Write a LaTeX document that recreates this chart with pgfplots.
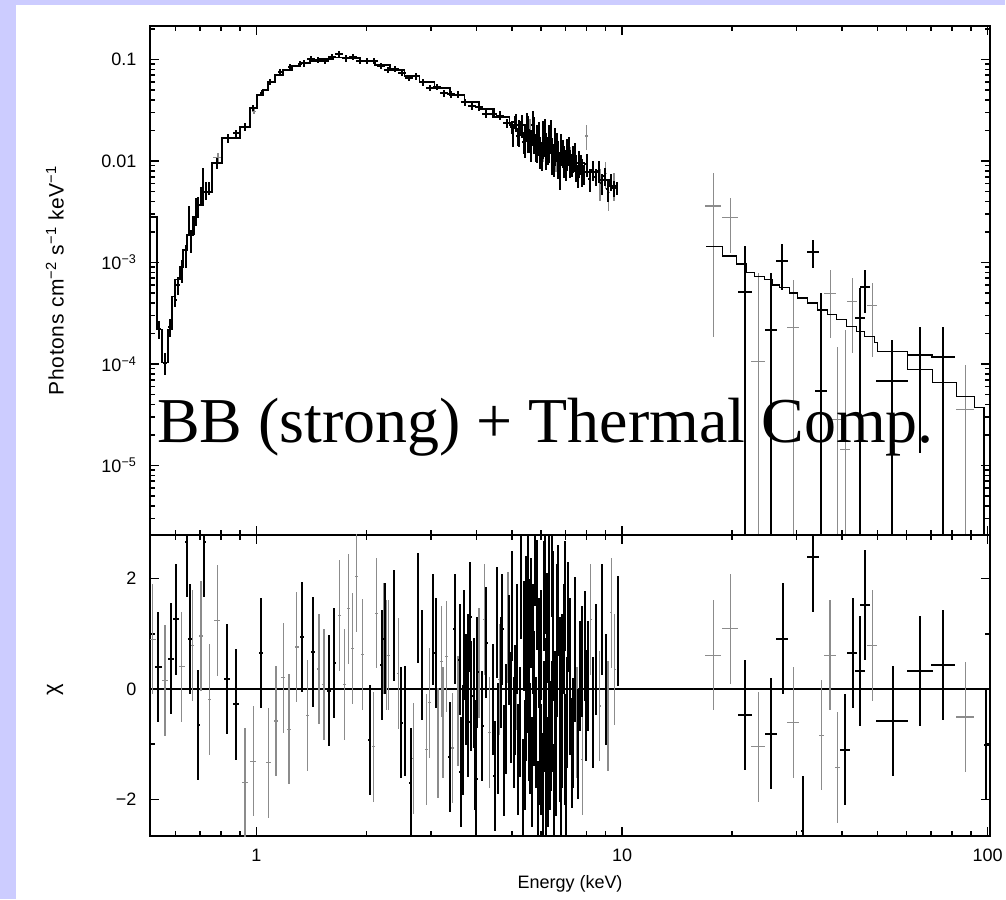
\documentclass[border=0pt]{standalone}
\usepackage{pgfplots}
\pgfplotsset{compat=1.18}
\usepackage{fontspec}
\setmainfont{Liberation Sans}
\newfontfamily\annfont{Liberation Serif}
\definecolor{lav}{RGB}{204,204,255}
\definecolor{dgray}{gray}{0.55}

\pgfplotsset{
  every axis/.append style={
    scale only axis, width=841pt, anchor=south west,
    xmin=0.511, xmax=101.6,
    xtick={1,10,100},
    minor xtick={0.6,0.7,0.8,0.9,2,3,4,5,6,7,8,9,20,30,40,50,60,70,80,90},
    tick align=inside,
    major tick length=9pt, minor tick length=5pt,
    axis line style={line width=2pt},
    tick style={line width=1.6pt, black},
    tick label style={font=\fontsize{18}{20}\selectfont},
    label style={font=\fontsize{18}{20}\selectfont},
    yticklabel style={xshift=-10pt},
    xticklabel style={yshift=-9pt},
  },
}

\begin{document}
\begin{tikzpicture}
\fill[lav] (0pt,0pt) rectangle (1006pt,900pt);
\fill[white] (16pt,0pt) rectangle (1006pt,895pt);

% ---------------- spectrum ----------------
\begin{axis}[xmode=log, at={(150pt,365pt)}, height=509pt,
  ymode=log, ymin=2.09e-6, ymax=0.2138,
  xticklabels={},
  ytick={1e-5,1e-4,1e-3,0.01,0.1},
  yticklabels={10\textsuperscript{−5},10\textsuperscript{−4},10\textsuperscript{−3},0.01,0.1},
  minor ytick={3e-6,4e-6,5e-6,6e-6,7e-6,8e-6,9e-6,2e-5,3e-5,4e-5,5e-5,6e-5,7e-5,8e-5,9e-5,2e-4,3e-4,4e-4,5e-4,6e-4,7e-4,8e-4,9e-4,2e-3,3e-3,4e-3,5e-3,6e-3,7e-3,8e-3,9e-3,0.02,0.03,0.04,0.05,0.06,0.07,0.08,0.09,0.2},
  ylabel={Photons cm\textsuperscript{−2} s\textsuperscript{−1} keV\textsuperscript{−1}},
  ylabel style={at={(axis description cs:-0.113,0.5)}, anchor=center,
    font=\fontsize{21}{24}\selectfont\addfontfeatures{LetterSpace=3}},
]
% gray data below 10 keV
\addplot[draw=none, mark=none, error bars/.cd, x dir=both, y dir=both, x explicit, y explicit,
    error mark=none, error bar style={draw=dgray, line width=1.2pt}]
  table[x=E, y=F, x error expr=\thisrow{E}*\thisrow{w}, y error expr=\thisrow{F}*\thisrow{r}] {
E w F r
0.785 0.030 0.0108 0.10
0.985 0.015 0.0310 0.06
5.60 0.008 0.0200 0.30
6.10 0.008 0.0150 0.35
6.60 0.008 0.0120 0.35
7.20 0.008 0.0105 0.30
7.998 0.008 0.01766 0.28
8.70 0.008 0.0062 0.35
9.00 0.008 0.0075 0.30
9.20 0.008 0.0049 0.35
9.50 0.008 0.0058 0.30
};
% gray data above 17 keV
\addplot[draw=none, mark=none, error bars/.cd, x dir=both, y dir=both, x explicit, y explicit,
    error mark=none, error bar style={draw=dgray, line width=1.2pt}]
  table[x=E, y=F, x error minus expr=\thisrow{E}-\thisrow{Elo}, x error plus expr=\thisrow{Ehi}-\thisrow{E},
        y error minus expr=\thisrow{F}-\thisrow{Flo}, y error plus expr=\thisrow{Fhi}-\thisrow{F}] {
E Elo Ehi F Flo Fhi
17.78 16.91 18.70 3.61e-3 1.86e-4 7.64e-3
19.79 18.82 20.81 2.77e-3 1.25e-3 4.33e-3
23.60 22.59 24.66 1.06e-4 1e-8 7.92e-4
29.42 28.33 30.55 2.29e-4 1e-8 6.76e-4
37.13 35.75 38.55 4.92e-4 1.82e-4 8.47e-4
38.79 37.59 40.05 2.83e-5 1e-8 1.48e-4
40.80 39.54 42.11 1.43e-5 1e-8 2.18e-4
42.64 41.32 44.00 4.13e-4 1.29e-4 7.07e-4
48.35 46.85 49.90 3.77e-4 1.18e-4 6.28e-4
86.80 82.03 91.87 3.55e-5 1e-8 9.84e-5
};
% black data below 10 keV
\addplot[draw=none, mark=none, error bars/.cd, x dir=both, y dir=both, x explicit, y explicit,
    error mark=none, error bar style={draw=black, line width=2pt}]
  table[x=E, y=F, x error expr=\thisrow{E}*\thisrow{w}, y error expr=\thisrow{F}*\thisrow{r}] {
E w F r
0.540 0.012 2.20e-4 0.20
0.562 0.012 1.03e-4 0.25
0.580 0.010 2.33e-4 0.20
0.599 0.010 4.30e-4 0.15
0.610 0.010 6.03e-4 0.20
0.626 0.008 8.47e-4 0.25
0.642 0.008 1.19e-3 0.25
0.654 0.006 2.75e-3 0.30
0.662 0.006 1.67e-3 0.25
0.675 0.006 2.35e-3 0.20
0.684 0.006 3.30e-3 0.30
0.692 0.006 3.70e-3 0.20
0.705 0.006 4.64e-3 0.20
0.714 0.006 6.82e-3 0.25
0.728 0.006 5.20e-3 0.20
0.742 0.008 5.44e-3 0.15
0.780 0.030 9.58e-3 0.12
0.836 0.025 0.0169 0.10
0.879 0.020 0.0189 0.08
0.930 0.020 0.0217 0.08
0.978 0.015 0.0333 0.06
1.035 0.012 0.0468 0.06
1.088 0.012 0.0600 0.06
1.159 0.012 0.0753 0.06
1.234 0.012 0.0844 0.06
1.315 0.012 0.0903 0.06
1.348 0.025 0.0915 0.07
1.409 0.025 0.1016 0.07
1.472 0.025 0.0998 0.07
1.539 0.025 0.0975 0.07
1.608 0.025 0.1066 0.07
1.680 0.025 0.1120 0.07
1.756 0.025 0.1023 0.07
1.835 0.025 0.1051 0.07
1.918 0.025 0.0966 0.07
2.004 0.025 0.0969 0.07
2.094 0.025 0.0973 0.07
2.189 0.025 0.0863 0.07
2.287 0.025 0.0783 0.07
2.390 0.025 0.0806 0.07
2.498 0.025 0.0740 0.07
2.610 0.025 0.0664 0.07
2.728 0.025 0.0682 0.07
2.850 0.025 0.0595 0.07
2.979 0.025 0.0528 0.07
3.112 0.025 0.0536 0.07
3.253 0.025 0.0466 0.08
3.400 0.025 0.0452 0.08
3.552 0.025 0.0450 0.08
3.713 0.025 0.0382 0.08
3.880 0.025 0.0346 0.09
4.055 0.025 0.0344 0.09
4.236 0.025 0.0292 0.09
4.429 0.025 0.0291 0.09
4.627 0.025 0.0280 0.10
4.835 0.025 0.0235 0.10
4.990 0.008 0.02147 0.146
5.03 0.008 0.0185 0.25
5.085 0.008 0.02415 0.146
5.13 0.008 0.0240 0.20
5.182 0.008 0.01766 0.199
5.23 0.008 0.0195 0.30
5.281 0.008 0.02128 0.172
5.33 0.008 0.0225 0.25
5.382 0.008 0.01556 0.254
5.43 0.008 0.0165 0.35
5.485 0.008 0.02246 0.313
5.54 0.008 0.0200 0.40
5.589 0.008 0.01606 0.254
5.64 0.008 0.0150 0.35
5.696 0.008 0.02266 0.374
5.75 0.008 0.0195 0.40
5.805 0.008 0.01415 0.313
5.86 0.008 0.0160 0.40
5.915 0.008 0.01782 0.374
5.97 0.008 0.0128 0.35
6.028 0.008 0.01164 0.313
6.08 0.008 0.0175 0.40
6.143 0.008 0.01840 0.405
6.20 0.008 0.0135 0.40
6.260 0.008 0.01316 0.313
6.32 0.008 0.0160 0.40
6.377 0.008 0.01857 0.374
6.44 0.008 0.0120 0.40
6.499 0.008 0.01058 0.343
6.56 0.008 0.0150 0.40
6.623 0.008 0.01427 0.313
6.69 0.008 0.0112 0.40
6.749 0.008 0.00871 0.405
6.81 0.008 0.0138 0.35
6.878 0.008 0.01229 0.313
6.94 0.008 0.0105 0.35
7.009 0.008 0.00962 0.343
7.08 0.008 0.0122 0.35
7.142 0.008 0.01298 0.313
7.21 0.008 0.0098 0.30
7.278 0.008 0.00928 0.254
7.35 0.008 0.0108 0.30
7.417 0.008 0.01143 0.313
7.49 0.008 0.0088 0.30
7.559 0.008 0.00730 0.254
7.63 0.008 0.0097 0.30
7.702 0.008 0.00941 0.226
7.78 0.008 0.0080 0.30
7.849 0.008 0.00753 0.226
7.998 0.008 0.00928 0.254
8.151 0.008 0.00664 0.254
8.306 0.008 0.00818 0.226
8.464 0.008 0.00701 0.199
8.626 0.008 0.00806 0.254
8.790 0.008 0.00603 0.226
8.958 0.008 0.00710 0.199
9.129 0.008 0.00531 0.254
9.302 0.008 0.00626 0.199
9.480 0.008 0.00536 0.172
9.661 0.008 0.00539 0.146
};
% black data above 17 keV
\addplot[draw=none, mark=none, error bars/.cd, x dir=both, y dir=both, x explicit, y explicit,
    error mark=none, error bar style={draw=black, line width=2pt}]
  table[x=E, y=F, x error minus expr=\thisrow{E}-\thisrow{Elo}, x error plus expr=\thisrow{Ehi}-\thisrow{E},
        y error minus expr=\thisrow{F}-\thisrow{Flo}, y error plus expr=\thisrow{Fhi}-\thisrow{F}] {
E Elo Ehi F Flo Fhi
21.75 20.81 22.73 5.18e-4 1e-8 1.44e-3
25.62 24.66 26.60 2.18e-4 1e-8 7.92e-4
27.46 26.43 28.51 1.04e-3 5.38e-4 1.53e-3
33.37 32.13 34.64 1.28e-3 8.87e-4 1.65e-3
35.09 33.79 36.43 5.37e-5 1e-8 5.03e-4
44.84 43.45 46.27 2.87e-4 1e-8 5.64e-4
46.27 44.84 47.75 5.80e-4 3.20e-4 8.47e-4
54.84 49.59 60.66 6.85e-5 1e-8 1.73e-4
65.40 60.28 70.97 1.23e-4 1.34e-5 2.33e-4
75.56 70.08 81.51 1.18e-4 1e-8 2.33e-4
};
% model, low energy
\addplot[const plot, black, line width=1.4pt] table[x=E, y=F] {
E F
0.5117 2.82e-3
0.5347 2.18e-4
0.5516 1.03e-4
0.5731 2.18e-4
0.5877 4.60e-4
0.5989 6.76e-4
0.6180 9.07e-4
0.6298 1.33e-3
0.6458 1.87e-3
0.6707 2.82e-3
0.6922 3.70e-3
0.7143 4.97e-3
0.7558 9.58e-3
0.8048 0.0169
0.9013 0.0217
0.9599 0.0333
1.003 0.0447
1.042 0.0501
1.075 0.0600
1.123 0.0704
1.181 0.0788
1.250 0.0863
1.315 0.0924
1.400 0.0966
1.491 0.1011
1.618 0.1047
1.745 0.1035
1.918 0.0966
2.108 0.0883
2.316 0.0788
2.545 0.0688
2.797 0.0600
3.074 0.0524
3.379 0.0447
3.713 0.0382
4.080 0.0326
4.484 0.0272
4.928 0.0227
5.416 0.01766
5.951 0.01440
6.540 0.01174
7.187 0.00958
7.898 0.00781
8.680 0.00652
9.244 0.00569
9.721 0.00569
};
% model, high energy
\addplot[const plot, black, line width=1.4pt] table[x=E, y=F] {
E F
17.01 1.44e-3
18.82 1.16e-3
20.55 9.71e-4
21.89 7.97e-4
23.01 7.28e-4
24.51 6.76e-4
25.78 6.03e-4
26.94 5.64e-4
28.69 5.03e-4
30.17 4.49e-4
32.13 4.01e-4
34.21 3.42e-4
36.43 3.06e-4
38.55 2.73e-4
41.06 2.34e-4
43.73 2.09e-4
45.98 1.87e-4
48.97 1.62e-4
49.90 1.33e-4
60.28 8.79e-5
70.53 6.54e-5
82.03 4.80e-5
91.87 3.71e-5
97.82 1e-8
101.6 1e-8
};
\end{axis}

% ---------------- residuals ----------------
\begin{axis}[xmode=log, at={(150pt,63pt)}, height=302pt,
  ymin=-2.67, ymax=2.796,
  ytick={-2,0,2}, yticklabels={−2,0,2}, minor ytick={-1,1},
  xticklabels={1,10,100},
  xlabel={Energy (keV)},
  xlabel style={at={(axis description cs:0.5,-0.159)}, anchor=center},
  ylabel={χ},
  ylabel style={at={(axis description cs:-0.113,0.487)}, anchor=center, font=\fontsize{22}{24}\selectfont},
]
\addplot[black, line width=1.5pt] coordinates {(0.511,0) (101.6,0)};
\addplot[draw=none, mark=none, error bars/.cd, x dir=both, y dir=both, x explicit, y fixed=1,
    error mark=none, error bar style={draw=dgray, line width=1.2pt}]
  table[x=E, y=c, x error expr=\thisrow{E}*\thisrow{w}] {
E w c
0.5205 0.02 0.90
0.5623 0.02 0.15
0.6246 0.02 0.40
0.6677 0.01 0.79
0.7053 0.01 0.96
0.7430 0.01 -0.19
0.7816 0.02 1.24
0.9302 0.02 -1.70
0.9802 0.02 -1.31
1.0770 0.015 -1.34
1.1304 0.015 -0.58
1.1838 0.012 0.20
1.2267 0.012 -0.73
1.2877 0.012 0.76
1.3799 0.012 -0.48
1.4818 0.01 0.36
1.5291 0.01 0.08
1.6834 0.01 1.33
1.7375 0.01 0.08
1.7817 0.01 1.45
1.8316 0.01 0.73
1.8785 0.01 2.03
1.9507 0.01 0.62
2.0851 0.01 -1.05
2.1302 0.01 1.37
2.2213 0.01 0.91
2.2689 0.01 0.61
2.2914 0.01 0.61
2.4406 0.008 0.28
2.6824 0.008 -1.26
2.9174 0.008 -1.10
2.9785 0.008 -0.25
3.1389 0.008 -0.98
3.2054 0.008 0.50
3.2393 0.008 -0.61
3.3078 0.008 0.59
3.4356 0.008 -1.07
3.5597 0.008 -0.40
4.0632 0.008 0.47
4.2108 0.008 1.26
4.3449 0.008 -0.79
4.6276 0.008 0.17
4.8760 0.008 1.11
5.1390 0.006 0.26
7.5273 0.006 -0.61
7.7847 0.006 -1.28
8.2025 0.006 1.26
8.6793 0.006 -0.31
9.1471 0.006 -0.49
9.3406 0.006 1.38
9.5398 0.006 0.35
};
\addplot[draw=none, mark=none, error bars/.cd, x dir=both, y dir=both, x explicit, y fixed=1,
    error mark=none, error bar style={draw=dgray, line width=1.2pt}]
  table[x=E, y=c, x error minus expr=\thisrow{E}-\thisrow{Elo}, x error plus expr=\thisrow{Ehi}-\thisrow{E}] {
E Elo Ehi c
17.81 16.91 18.70 0.61
19.79 18.82 20.81 1.09
23.60 22.59 24.66 -1.05
29.37 28.33 30.55 -0.61
35.03 34.5 35.6 -0.84
37.06 35.75 38.55 0.61
38.86 38.3 39.4 -1.42
48.44 46.85 49.90 0.79
86.80 82.03 91.87 -0.51
};
\addplot[draw=none, mark=none, error bars/.cd, x dir=both, y dir=both, x explicit, y fixed=1,
    error mark=none, error bar style={draw=black, line width=2pt}]
  table[x=E, y=c, x error expr=\thisrow{E}*\thisrow{w}] {
E w c
0.5391 0.02 0.40
0.5828 0.02 0.55
0.6026 0.02 1.26
0.6447 0.01 2.66
0.6581 0.01 0.90
0.6934 0.01 -0.65
0.7201 0.01 2.67
0.8292 0.02 0.18
0.8790 0.02 -0.28
1.0287 0.015 0.65
1.3314 0.012 0.94
1.4295 0.012 0.67
1.5810 0.012 -0.03
1.6317 0.01 0.47
2.0423 0.01 -0.93
2.1984 0.01 0.43
2.2444 0.01 0.91
2.3750 0.008 1.15
2.4925 0.008 -0.61
2.5453 0.008 -0.58
2.6383 0.008 -1.70
2.7677 0.008 1.47
2.8387 0.008 0.43
3.0415 0.008 1.08
3.0931 0.008 0.65
3.3778 0.008 -1.23
3.4857 0.008 1.09
3.5975 0.008 0.53
3.62 0.008 -1.5
3.6736 0.008 -0.93
3.70 0.008 0.8
3.7359 0.008 -0.01
3.7915 0.008 0.35
3.80 0.008 -0.6
3.85 0.008 1.3
3.8719 0.008 -0.13
3.9376 0.008 -0.07
3.96 0.008 -1.2
3.9954 0.008 -1.64
4.02 0.008 0.3
4.1493 0.008 -0.67
4.2548 0.008 0.84
4.4369 0.008 -0.19
4.4837 0.008 -1.58
4.55 0.006 1.2
4.58 0.006 -0.9
4.66 0.006 0.3
4.7050 0.008 1.08
4.75 0.006 -1.3
4.8046 0.008 -0.55
4.90 0.006 0.7
4.9793 0.006 -0.34
5.00 0.006 1.5
5.0534 0.006 -0.79
5.10 0.006 -0.2
5.16 0.006 0.9
5.1938 0.006 -1.28
5.25 0.006 -0.6
5.3037 0.006 1.9
5.35 0.006 -1.9
5.3823 0.006 0.96
5.42 0.006 -1.2
5.45 0.006 1.4
5.4736 0.006 -0.31
5.50 0.006 0.2
5.52 0.006 2.2
5.5665 0.006 -0.67
5.58 0.006 1.0
5.60 0.006 -0.9
5.6480 0.006 1.38
5.67 0.006 -1.5
5.70 0.006 0.9
5.7318 0.006 0.05
5.75 0.006 -0.4
5.78 0.006 2.5
5.8290 0.006 -0.79
5.85 0.006 1.7
5.88 0.006 -2.3
5.9278 0.006 0.65
5.95 0.006 -1.1
5.98 0.006 0.4
6.0146 0.006 -1.28
6.02 0.006 0.8
6.06 0.006 -1.8
6.1037 0.006 1.68
6.10 0.006 -0.5
6.15 0.006 2.0
6.18 0.006 -2.0
6.2072 0.006 -0.07
6.22 0.006 1.1
6.26 0.006 -1.5
6.30 0.006 0.2
6.3125 0.006 1.98
6.35 0.006 -1.2
6.3783 0.006 -0.85
6.42 0.006 2.3
6.45 0.006 -0.5
6.4730 0.006 0.78
6.48 0.006 1.5
6.52 0.006 -2.0
6.5679 0.006 -0.31
6.60 0.006 -1.3
6.62 0.006 0.5
6.6516 0.006 1.26
6.70 0.006 1.6
6.7499 0.006 -1.04
6.76 0.006 0.3
6.80 0.006 -1.7
6.85 0.006 -0.8
6.8643 0.006 0.35
6.92 0.006 0.9
6.9649 0.006 1.68
6.98 0.006 -1.1
7.03 0.006 -2.1
7.0831 0.006 -0.43
7.10 0.006 1.3
7.1883 0.006 0.65
7.22 0.006 -0.2
7.2938 0.006 -1.16
7.35 0.006 -0.8
7.4175 0.006 1.02
7.45 0.006 0.4
7.60 0.006 -1.0
7.6549 0.006 0.23
7.75 0.006 0.5
7.8985 0.006 0.78
7.95 0.006 -0.3
8.0659 0.006 0.23
8.3230 0.006 -0.43
8.4992 0.006 0.53
8.8278 0.006 1.26
9.0146 0.006 -0.01
9.7423 0.006 1.05
};
\addplot[draw=none, mark=none, error bars/.cd, x dir=both, y dir=both, x explicit, y fixed=1,
    error mark=none, error bar style={draw=black, line width=2pt}]
  table[x=E, y=c, x error minus expr=\thisrow{E}-\thisrow{Elo}, x error plus expr=\thisrow{Ehi}-\thisrow{E}] {
E Elo Ehi c
21.71 20.81 22.73 -0.47
25.57 24.66 26.60 -0.81
27.51 26.43 28.51 0.91
31.19 30.9 31.5 -2.57
33.21 32.13 34.64 2.39
40.80 39.54 42.11 -1.10
42.82 41.32 44.00 0.65
44.84 43.45 46.27 0.32
46.27 44.84 47.75 1.52
54.95 49.59 60.66 -0.58
65.40 60.28 70.97 0.32
75.70 70.08 81.51 0.43
99.24 97.82 101.6 -1.02
};
\end{axis}

\node[anchor=base west, inner sep=0pt, font=\annfont\fontsize{64}{70}\selectfont] at (157pt,457pt) {BB (strong) + Thermal Comp.};
\end{tikzpicture}
\end{document}
